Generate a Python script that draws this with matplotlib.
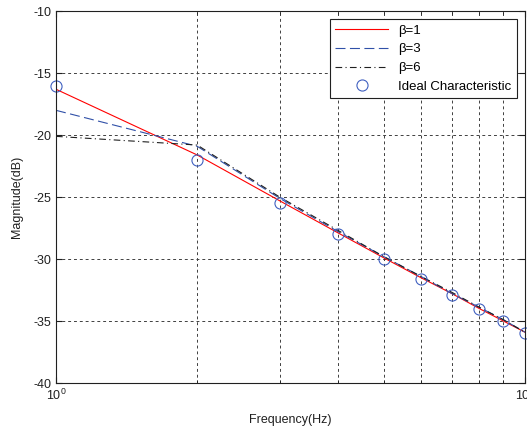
import matplotlib

matplotlib.use("Agg")
import matplotlib.pyplot as plt  # noqa: E402
from matplotlib.ticker import LogLocator, NullFormatter  # noqa: E402

# values (dB at 1..10 Hz)
freq = [1, 2, 3, 4, 5, 6, 7, 8, 9, 10]
beta1 = [-16.3, -21.6, -25.3, -27.9, -29.9, -31.5, -32.8, -34.0, -35.0, -35.9]
beta3 = [-18.0, -20.9, -25.1, -27.8, -29.8, -31.4, -32.8, -33.9, -34.9, -35.9]
beta6 = [-20.1, -20.8, -25.0, -27.7, -29.8, -31.4, -32.7, -33.9, -34.9, -35.9]
ideal = [-16.0, -22.0, -25.5, -28.0, -30.0, -31.6, -32.9, -34.0, -35.0, -36.0]
y_ticks = [-40, -35, -30, -25, -20, -15, -10]

plt.rcParams["font.family"] = ["Liberation Sans", "DejaVu Sans"]
plt.rcParams["font.size"] = 9
plt.rcParams["axes.unicode_minus"] = False

fig = plt.figure(figsize=(5.27, 4.3), dpi=100)
ax = fig.add_axes([0.1063, 0.1093, 0.8897, 0.8647])

ax.plot(freq, beta1, color="#ff0000", lw=0.8, label="β=1")
ax.plot(freq, beta3, color="#3050a8", lw=0.8, dashes=(9, 4), label="β=3")
ax.plot(freq, beta6, color="#202020", lw=0.8, dashes=(6, 3, 1, 3), label="β=6")
ax.plot(freq, ideal, "o", mfc="none", mec="#4060c0", mew=0.8, ms=8,
        label="Ideal Characteristic", clip_on=False)

ax.set_xscale("log")
ax.set_xlim(1, 10)
ax.set_ylim(-40, -10)
ax.set_yticks(y_ticks)
ax.xaxis.set_minor_locator(LogLocator(base=10, subs=range(2, 10)))
ax.xaxis.set_minor_formatter(NullFormatter())

ax.grid(True, which="both", color="#404040", linestyle=(0, (3, 3)), lw=0.7)
ax.tick_params(which="both", direction="in", top=True, right=True,
               colors="#202020", labelcolor="#202020")
ax.tick_params(which="major", length=4)
ax.tick_params(which="minor", length=2)
for s in ax.spines.values():
    s.set_color("#202020")
    s.set_linewidth(0.8)

ax.set_xlabel("Frequency(Hz)", color="#202020", labelpad=8)
ax.set_ylabel("Magnitude(dB)", color="#202020", labelpad=7)

leg = ax.legend(loc="upper right", fancybox=False, framealpha=1,
                edgecolor="#202020", handlelength=4.0, borderaxespad=0.6,
                labelspacing=0.5, fontsize=9.5)
leg.get_frame().set_linewidth(0.8)

fig.savefig("out.png", dpi=100)
